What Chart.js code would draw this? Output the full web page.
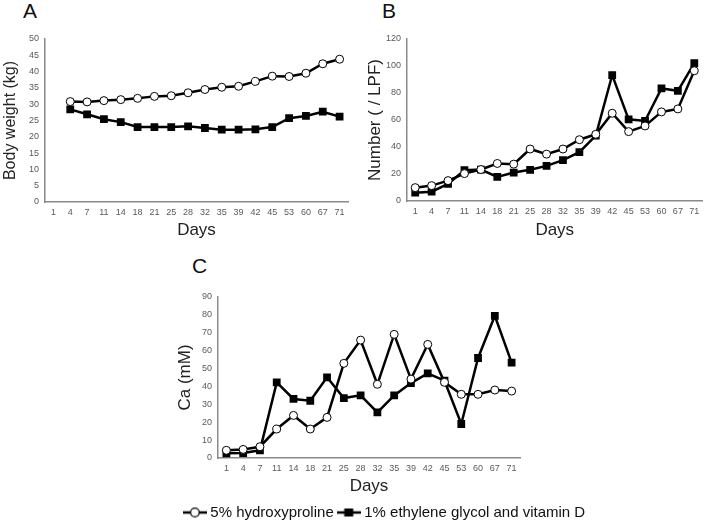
<!DOCTYPE html>
<html>
<head>
<meta charset="utf-8">
<script src="https://cdn.jsdelivr.net/npm/chart.js@4.4.1/dist/chart.umd.min.js"></script>
<style>
  body { margin: 0; background: #fff; width: 708px; height: 524px; position: relative; overflow: hidden; font-family: "Liberation Sans", Arial, sans-serif; }
  .box { position: absolute; }
  .letter { position: absolute; font-size: 21px; line-height: 21px; color: #111; }
</style>
</head>
<body>
<div class="letter" style="left:23px; top:0px;">A</div>
<div class="letter" style="left:382px; top:0px;">B</div>
<div class="letter" style="left:192px; top:255px;">C</div>
<div class="box" style="left:0; top:0; width:354px; height:246px;"><canvas id="chartA"></canvas></div>
<div class="box" style="left:354px; top:0; width:354px; height:246px;"><canvas id="chartB"></canvas></div>
<div class="box" style="left:150px; top:250px; width:472px; height:274px;"><canvas id="chartC"></canvas></div>
<script>
var days = ['1', '4', '7', '11', '14', '18', '21', '25', '28', '32', '35', '39', '42', '45', '53', '60', '67', '71'];

// A: body weight (kg)
var weightHyp = [null, 30.8, 30.7, 31.1, 31.4, 31.8, 32.4, 32.6, 33.5, 34.5, 35.2, 35.5, 37.0, 38.6, 38.5, 39.5, 42.4, 43.8];
var weightEg = [null, 28.4, 26.9, 25.4, 24.5, 23.0, 23.0, 23.0, 23.2, 22.7, 22.2, 22.2, 22.3, 23.0, 25.7, 26.4, 27.7, 26.2];

// B: number (/LPF)
var numberHyp = [9.9, 11.4, 15.1, 20.3, 23.3, 27.8, 27.3, 38.5, 34.7, 38.5, 45.4, 49.4, 65.0, 51.4, 55.6, 66.0, 68.2, 96.5];
var numberEg = [6.2, 6.9, 12.7, 22.8, 23.3, 17.9, 21.1, 23.1, 26.0, 30.3, 36.2, 48.4, 93.3, 60.5, 59.3, 83.4, 81.6, 102.2];

// C: Ca (mM)
var caHyp = [4.3, 4.8, 6.3, 16.2, 23.8, 16.2, 22.7, 52.9, 65.9, 41.2, 69.1, 44.1, 63.5, 42.3, 35.6, 35.6, 38.0, 37.4];
var caEg = [2.6, 2.8, 4.3, 42.3, 33.0, 32.0, 45.1, 33.5, 35.0, 25.5, 35.0, 41.9, 47.3, 43.2, 19.0, 55.9, 79.5, 53.3];

var hypLabel = '5% hydroxyproline';
var egLabel = '1% ethylene glycol and vitamin D';

Chart.defaults.font.family = '"Liberation Sans", Arial, sans-serif';
Chart.defaults.color = '#595959';

// legend symbols: short line with the marker in the middle
function legendSymbol(square) {
    var c = document.createElement('canvas');
    c.width = 24; c.height = 12;
    var ctx = c.getContext('2d');
    ctx.strokeStyle = '#000';
    ctx.lineWidth = 2.5;
    ctx.beginPath(); ctx.moveTo(0, 6); ctx.lineTo(24, 6); ctx.stroke();
    if (square) {
        ctx.fillStyle = '#000';
        ctx.fillRect(7.5, 2, 9, 8);
    } else {
        ctx.fillStyle = '#fff';
        ctx.lineWidth = 1.2;
        ctx.beginPath(); ctx.arc(12, 6, 4.3, 0, Math.PI * 2); ctx.fill(); ctx.stroke();
    }
    return c;
}

function makeDatasets(hyp, eg) {
    return [{
        label: hypLabel,
        data: hyp,
        borderColor: '#000',
        borderWidth: 2.5,
        pointStyle: 'circle',
        pointRadius: 4,
        pointBackgroundColor: '#fff',
        pointBorderColor: '#000',
        pointBorderWidth: 1,
        tension: 0
    }, {
        label: egLabel,
        data: eg,
        borderColor: '#000',
        borderWidth: 2.5,
        pointStyle: 'rect',
        pointRadius: 5.5,
        pointBackgroundColor: '#000',
        pointBorderColor: '#000',
        pointBorderWidth: 0,
        tension: 0
    }];
}

function makeOptions(cfg) {
    var scales = {
        x: {
            offset: true,
            grid: { display: false, drawTicks: false },
            border: { color: '#8a8a8a', width: 1.5 },
            ticks: { font: { size: 9 }, color: '#595959', padding: 5, maxRotation: 0, autoSkip: false },
            title: { display: true, text: 'Days', color: '#222', font: { size: 17 }, padding: { top: 0, bottom: cfg.xTitlePad } },
            afterFit: function (s) { s.height = cfg.xHeight; }
        },
        y: {
            min: 0,
            max: cfg.yMax,
            grid: { display: false, drawTicks: false },
            border: { color: '#8a8a8a', width: 1.5 },
            ticks: { stepSize: cfg.yStep, font: { size: 9 }, color: '#595959', padding: 6 },
            title: { display: true, text: cfg.yTitle, color: '#222', font: { size: cfg.yTitleSize }, padding: { top: cfg.yTitlePad, bottom: 0 } },
            afterFit: function (s) { s.width = cfg.yWidth; }
        }
    };
    if (cfg.rightSpace) {
        // empty space to the right of the plot, so the legend can use the whole width
        scales.space = {
            type: 'linear',
            position: 'right',
            grid: { display: false, drawTicks: false },
            border: { display: false },
            ticks: { display: false },
            afterFit: function (s) { s.width = cfg.rightSpace; }
        };
    }
    return {
        responsive: true,
        maintainAspectRatio: false,
        animation: false,
        layout: { padding: cfg.padding },
        scales: scales,
        plugins: {
            legend: cfg.legend || { display: false },
            tooltip: { enabled: false }
        }
    };
}

new Chart(document.getElementById('chartA'), {
    type: 'line',
    data: { labels: days, datasets: makeDatasets(weightHyp, weightEg) },
    options: makeOptions({
        padding: { top: 39, right: 6, left: 0, bottom: 0 },
        xHeight: 44, xTitlePad: 5,
        yWidth: 45, yMax: 50, yStep: 5,
        yTitle: 'Body weight (kg)', yTitleSize: 16, yTitlePad: 1
    })
});

new Chart(document.getElementById('chartB'), {
    type: 'line',
    data: { labels: days, datasets: makeDatasets(numberHyp, numberEg) },
    options: makeOptions({
        padding: { top: 39, right: 4, left: 0, bottom: 0 },
        xHeight: 45, xTitlePad: 5,
        yWidth: 53, yMax: 120, yStep: 20,
        yTitle: 'Number ( / LPF)', yTitleSize: 17, yTitlePad: 11
    })
});

var symHyp = legendSymbol(false);
var symEg = legendSymbol(true);

new Chart(document.getElementById('chartC'), {
    type: 'line',
    data: { labels: days, datasets: makeDatasets(caHyp, caEg) },
    options: makeOptions({
        padding: { top: 47, right: 0, left: 0, bottom: -6 },
        rightSpace: 102,
        xHeight: 40, xTitlePad: 1,
        yWidth: 68, yMax: 90, yStep: 10,
        yTitle: 'Ca (mM)', yTitleSize: 17, yTitlePad: 25,
        legend: {
            display: true,
            position: 'bottom',
            labels: {
                usePointStyle: true,
                pointStyleWidth: 16,
                padding: 7,
                color: '#111',
                font: { size: 15 },
                generateLabels: function (chart) {
                    return [
                        { text: hypLabel, pointStyle: symHyp, datasetIndex: 0, fontColor: '#111', lineWidth: 0, strokeStyle: 'transparent', fillStyle: 'transparent' },
                        { text: egLabel, pointStyle: symEg, datasetIndex: 1, fontColor: '#111', lineWidth: 0, strokeStyle: 'transparent', fillStyle: 'transparent' }
                    ];
                }
            }
        }
    })
});
</script>
</body>
</html>
